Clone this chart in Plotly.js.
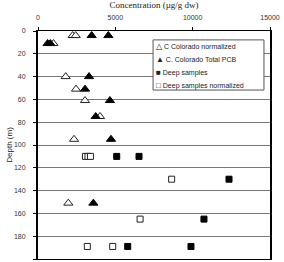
<!DOCTYPE html>
<html>
<head>
<meta charset="utf-8">
<script src="https://cdn.plot.ly/plotly-3.0.1.min.js"></script>
<style>
  html, body { margin: 0; padding: 0; background: #fff; }
  #chart { width: 284px; height: 262px; }
</style>
</head>
<body>
<div id="chart"></div>
<script>
// PCB concentration versus sampling depth
const normDepth = [4, 4, 11, 40, 51, 61, 75, 95, 151];
const normConc  = [2240, 2440, 1000, 1790, 2460, 3040, 4010, 2330, 1960];

const totalDepth = [4, 4, 11, 11, 40, 51, 61, 75, 95, 151];
const totalConc  = [3470, 4550, 620, 800, 3300, 3040, 4650, 3730, 4720, 3580];

const deepDepth = [110, 110, 130, 165, 189, 189];
const deepConc  = [5090, 6530, 12350, 10730, 5800, 9890];

const deepNormDepth = [110, 110, 110, 130, 165, 189, 189];
const deepNormConc  = [3070, 3230, 3390, 8640, 6600, 3190, 4830];

const xTicks = [0, 5000, 10000, 15000];
const yTicks = [0, 20, 40, 60, 80, 100, 120, 140, 160, 180, 200];

const seriesNames   = ['C Colorado normalized', 'C. Colorado Total PCB', 'Deep samples', 'Deep samples normalized'];
const seriesGlyphs  = ['\u25B3', '\u25B2', '\u25A0', '\u25A1'];

const traces = [
  {
    name: seriesNames[0],
    x: normConc, y: normDepth, type: 'scatter', mode: 'markers',
    marker: { symbol: 'triangle-up', size: 8, color: '#ffffff', line: { color: '#222', width: 1 } }
  },
  {
    name: seriesNames[1],
    x: totalConc, y: totalDepth, type: 'scatter', mode: 'markers',
    marker: { symbol: 'triangle-up', size: 8, color: '#000000', line: { color: '#000', width: 1 } }
  },
  {
    name: seriesNames[2],
    x: deepConc, y: deepDepth, type: 'scatter', mode: 'markers',
    marker: { symbol: 'square', size: 6, color: '#000000', line: { color: '#000', width: 1 } }
  },
  {
    name: seriesNames[3],
    x: deepNormConc, y: deepNormDepth, type: 'scatter', mode: 'markers',
    marker: { symbol: 'square', size: 6, color: '#ffffff', line: { color: '#222', width: 1 } }
  }
];

// compact boxed key in the upper right of the plot
const keyLeft = 0.496, keyRight = 0.974, keyTop = 0.961, keyBottom = 0.741;
const keyRows = [0.931, 0.876, 0.820, 0.762];

const annotations = seriesNames.map((name, i) => ({
  xref: 'paper', yref: 'paper',
  x: keyLeft + 0.006, y: keyRows[i],
  xanchor: 'left', yanchor: 'middle',
  showarrow: false,
  text: '<span style="font-size:8px">' + seriesGlyphs[i] + '</span> ' + name,
  font: { family: 'Liberation Sans, Arial, sans-serif', size: 7, color: '#222' }
}));

const shapes = [{
  type: 'rect', xref: 'paper', yref: 'paper',
  x0: keyLeft, x1: keyRight, y0: keyBottom, y1: keyTop,
  fillcolor: '#ffffff', line: { color: '#555', width: 1 }, layer: 'above'
}];

const layout = {
  width: 284, height: 262,
  margin: { l: 38, r: 14, t: 31, b: 3 },
  paper_bgcolor: '#ffffff', plot_bgcolor: '#ffffff',
  font: { family: 'Liberation Sans, Arial, sans-serif', size: 7, color: '#333' },
  showlegend: false,
  annotations: annotations,
  shapes: shapes,
  xaxis: {
    side: 'top', range: [0, 15000],
    tickvals: xTicks, ticktext: xTicks.map(String),
    ticks: 'outside', ticklen: 3, tickcolor: '#000',
    ticklabelstandoff: 4,
    showline: true, linecolor: '#000', linewidth: 1, mirror: true,
    showgrid: false, zeroline: false,
    tickfont: { size: 7, color: '#333' },
    title: { text: 'Concentration (µg/g dw)', standoff: 9,
             font: { family: 'Liberation Serif, Times New Roman, serif', size: 9, color: '#222' } }
  },
  yaxis: {
    range: [200, 0],
    tickvals: yTicks, ticktext: yTicks.map(String),
    ticks: 'outside', ticklen: 3, tickcolor: '#000',
    ticklabelstandoff: 6,
    showline: true, linecolor: '#000', linewidth: 2, mirror: true,
    showgrid: true, gridcolor: '#777', gridwidth: 1,
    zeroline: false,
    tickfont: { size: 7, color: '#333' },
    title: { text: 'Depth (m)', standoff: 0,
             font: { family: 'Liberation Sans, Arial, sans-serif', size: 8, color: '#222' } }
  }
};

Plotly.newPlot('chart', traces, layout, { displayModeBar: false, staticPlot: true });
</script>
</body>
</html>
